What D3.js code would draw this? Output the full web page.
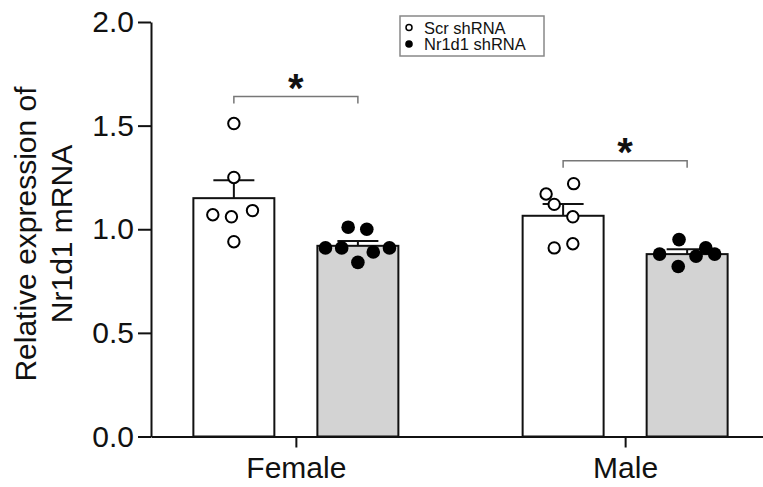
<!DOCTYPE html>
<html>
<head>
    <title></title>
    <meta charset="utf-8">
    <script src="https://d3js.org/d3.v7.min.js"></script>
    <style>
        body { margin: 0; background: #fff; }
        svg { display: block; font-family: 'Liberation Sans', Arial, sans-serif; }
    </style>
</head>
<body>
    <svg id="chart"></svg>

    <script>
        var groups = ['Female', 'Male'];
        var treatments = ['Scr shRNA', 'Nr1d1 shRNA'];

        // individual animals
        var femaleScr = [1.51, 1.25, 1.07, 1.06, 1.09, 0.94];
        var femaleNr1d1 = [1.01, 1.00, 0.91, 0.91, 0.89, 0.91, 0.84];
        var maleScr = [1.22, 1.17, 1.12, 1.06, 0.91, 0.93];
        var maleNr1d1 = [0.95, 0.88, 0.91, 0.87, 0.88, 0.82];

        // horizontal scatter of the dots, as a fraction of bar width
        var femaleScrJitter = [0, 0, -0.26, -0.03, 0.23, 0];
        var femaleNr1d1Jitter = [-0.12, 0.11, -0.4, -0.2, 0.19, 0.39, 0];
        var maleScrJitter = [0.13, -0.21, -0.11, 0.12, -0.11, 0.12];
        var maleNr1d1Jitter = [-0.1, -0.34, 0.23, 0.11, 0.34, -0.11];

        var means = [[1.15, 0.92], [1.065, 0.88]];
        var sems = [[0.086, 0.023], [0.057, 0.023]];

        var sigLevels = [1.64, 1.33];
        var sigLabels = ['*', '*'];
        var yTicks = [0, 0.5, 1.0, 1.5, 2.0];

        var width = 763;
        var height = 487;
        var fills = ['#ffffff', '#d3d3d3'];

        var points = [
            [femaleScr, femaleScrJitter, femaleNr1d1, femaleNr1d1Jitter],
            [maleScr, maleScrJitter, maleNr1d1, maleNr1d1Jitter]
        ];

        var bars = [];
        var dots = [];
        groups.forEach(function(g, i) {
            treatments.forEach(function(t, j) {
                bars.push({ group: g, treatment: t, idx: j, mean: means[i][j], sem: sems[i][j] });
                var vals = points[i][j * 2];
                var jit = points[i][j * 2 + 1];
                vals.forEach(function(v, k) {
                    dots.push({ group: g, treatment: t, idx: j, value: v, jitter: jit[k] });
                });
            });
        });

        var svg = d3.select('#chart')
            .attr('width', width)
            .attr('height', height);

        var xScale = d3.scalePoint()
            .domain(groups)
            .range([151, 770])
            .padding(0.44);

        var inner = d3.scaleBand()
            .domain(treatments)
            .range([-102.5, 102.5])
            .paddingInner(0.347);

        var yScale = d3.scaleLinear()
            .domain([0, 2])
            .range([436.5, 22]);

        function barX(d) { return xScale(d.group) + inner(d.treatment); }
        function barMid(d) { return barX(d) + inner.bandwidth() / 2; }

        // bars
        svg.append('g').selectAll('rect')
            .data(bars)
            .enter()
            .append('rect')
            .attr('x', barX)
            .attr('y', function(d) { return yScale(d.mean); })
            .attr('width', inner.bandwidth())
            .attr('height', function(d) { return yScale(0) - yScale(d.mean); })
            .attr('fill', function(d) { return fills[d.idx]; })
            .attr('stroke', '#111')
            .attr('stroke-width', 2);

        // error bars (upper only)
        var err = svg.append('g')
            .attr('stroke', '#111')
            .attr('stroke-width', 2);

        err.selectAll('line.stem')
            .data(bars)
            .enter()
            .append('line')
            .attr('class', 'stem')
            .attr('x1', barMid)
            .attr('x2', barMid)
            .attr('y1', function(d) { return yScale(d.mean); })
            .attr('y2', function(d) { return yScale(d.mean + d.sem); });

        err.selectAll('line.cap')
            .data(bars)
            .enter()
            .append('line')
            .attr('class', 'cap')
            .attr('x1', function(d) { return barMid(d) - 20.5; })
            .attr('x2', function(d) { return barMid(d) + 20.5; })
            .attr('y1', function(d) { return yScale(d.mean + d.sem); })
            .attr('y2', function(d) { return yScale(d.mean + d.sem); });

        // dots
        svg.append('g').selectAll('circle')
            .data(dots)
            .enter()
            .append('circle')
            .attr('cx', function(d) { return xScale(d.group) + inner(d.treatment) + inner.bandwidth() * (0.5 + d.jitter); })
            .attr('cy', function(d) { return yScale(d.value); })
            .attr('r', function(d) { return d.idx === 0 ? 5.7 : 6.8; })
            .attr('fill', function(d) { return d.idx === 0 ? '#fff' : '#000'; })
            .attr('stroke', '#000')
            .attr('stroke-width', function(d) { return d.idx === 0 ? 2 : 0; });

        // axes
        var yAxis = svg.append('g')
            .attr('transform', 'translate(151,0)')
            .call(d3.axisLeft(yScale)
                .tickValues(yTicks)
                .tickFormat(d3.format('.1f'))
                .tickSize(13)
                .tickSizeOuter(0)
                .tickPadding(4));

        var xAxis = svg.append('g')
            .attr('transform', 'translate(0,' + yScale(0) + ')')
            .call(d3.axisBottom(xScale)
                .tickSize(11)
                .tickSizeOuter(0)
                .tickPadding(9));

        [yAxis, xAxis].forEach(function(ax) {
            ax.selectAll('path, line').attr('stroke', '#111').attr('stroke-width', 2);
            ax.selectAll('text')
                .attr('fill', '#111')
                .style('font-size', '30px')
                .style('font-family', "'Liberation Sans', Arial, sans-serif");
        });

        // y title
        var title = svg.append('text')
            .attr('transform', 'translate(36,234) rotate(-90)')
            .attr('text-anchor', 'middle')
            .attr('fill', '#111')
            .style('font-size', '30px');
        title.append('tspan').attr('x', 0).attr('dy', 0).text('Relative expression of');
        title.append('tspan').attr('x', 0).attr('dy', 36).text('Nr1d1 mRNA');

        // significance brackets
        var sig = svg.append('g');
        groups.forEach(function(g, i) {
            var x1 = xScale(g) + inner(treatments[0]) + inner.bandwidth() / 2;
            var x2 = xScale(g) + inner(treatments[1]) + inner.bandwidth() / 2;
            var y = yScale(sigLevels[i]);
            sig.append('path')
                .attr('d', 'M' + x1 + ',' + (y + 7) + 'V' + y + 'H' + x2 + 'V' + (y + 7))
                .attr('fill', 'none')
                .attr('stroke', '#777')
                .attr('stroke-width', 1.5);
            sig.append('text')
                .attr('x', (x1 + x2) / 2)
                .attr('y', y + 5)
                .attr('text-anchor', 'middle')
                .attr('fill', '#111')
                .style('font-size', '40px')
                .style('font-weight', 'bold')
                .text(sigLabels[i]);
        });

        // legend
        var legend = svg.append('g').attr('transform', 'translate(400,16)');
        legend.append('rect')
            .attr('width', 144)
            .attr('height', 40)
            .attr('fill', '#fff')
            .attr('stroke', '#888')
            .attr('stroke-width', 1.5);
        var items = legend.selectAll('g.item')
            .data(treatments)
            .enter()
            .append('g')
            .attr('class', 'item')
            .attr('transform', function(d, i) { return 'translate(0,' + (11.5 + i * 16.5) + ')'; });
        items.append('circle')
            .attr('cx', 9)
            .attr('r', function(d, i) { return i === 0 ? 3 : 3.8; })
            .attr('fill', function(d, i) { return i === 0 ? '#fff' : '#000'; })
            .attr('stroke', '#000')
            .attr('stroke-width', function(d, i) { return i === 0 ? 1.5 : 0; });
        items.append('text')
            .attr('x', 24)
            .attr('y', 6)
            .attr('fill', '#111')
            .style('font-size', '16.5px')
            .text(function(d) { return d; });
    </script>
</body>
</html>
